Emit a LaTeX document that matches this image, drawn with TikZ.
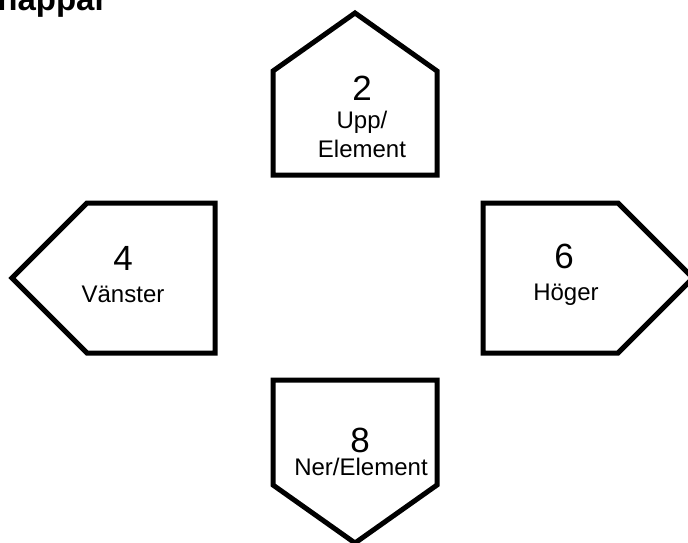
\documentclass[tikz,border=0pt]{standalone}
\usepackage{fontspec}
\setmainfont{Liberation Sans}
\begin{document}
\begin{tikzpicture}[
			x=1pt, y=-1pt,
			key/.style={draw, line width=5pt, fill=white},
			digit/.style={anchor=base, font=\fontsize{35}{40}\selectfont},
			keylabel/.style={anchor=base, font=\fontsize{24}{28}\selectfont},
			title/.style={anchor=base west, font=\fontsize{33}{38}\selectfont\bfseries}
		]
		\useasboundingbox (0,0) rectangle (688,542);
		\clip (0,0) rectangle (688,542);
		\node[title] (rubrik) at (-30,10) {Knappar};
		% upp
		\draw[key] (273,175) -- (273,71) -- (355,13) -- (437,71) -- (437,175) -- cycle;
		\node[digit] (n2) at (362,100) {2};
		\node[keylabel] (upp) at (362,128) {Upp/};
		\node[keylabel] (uppelem) at (362,157) {Element};
		% vanster
		\draw[key] (215,203) -- (87,203) -- (12,278) -- (87,353) -- (215,353) -- cycle;
		\node[digit] (n4) at (123,270) {4};
		\node[keylabel] (vanster) at (123,302) {Vänster};
		% hoger
		\draw[key] (483,203) -- (618,203) -- (693,278) -- (618,353) -- (483,353) -- cycle;
		\node[digit] (n6) at (564,268) {6};
		\node[keylabel] (hoger) at (566,300) {Höger};
		% ner
		\draw[key] (273,380) -- (437,380) -- (437,485) -- (355,543) -- (273,485) -- cycle;
		\node[digit] (n8) at (360,452) {8};
		\node[keylabel] (ner) at (361,475) {Ner/Element};
	\end{tikzpicture}
\end{document}
